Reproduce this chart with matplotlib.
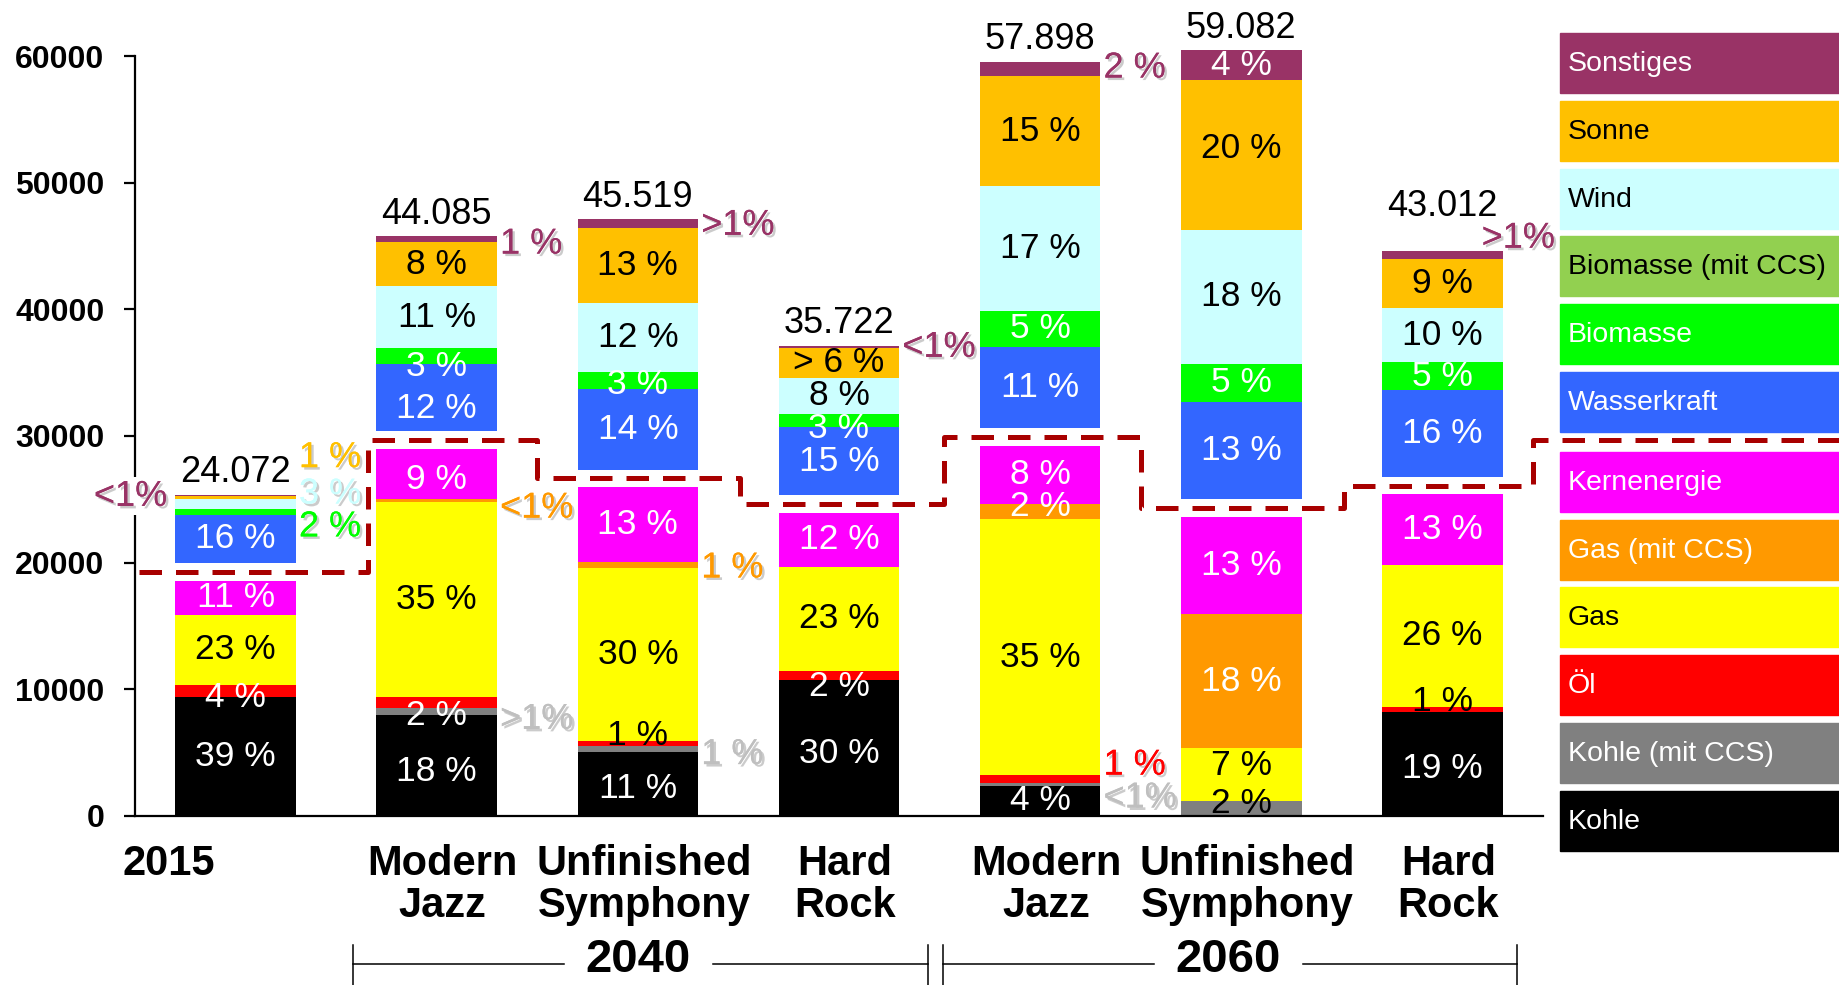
import matplotlib
matplotlib.use("Agg")
import matplotlib.pyplot as plt
import matplotlib.patheffects as pe
from matplotlib.patches import Rectangle

plt.rcParams['font.family'] = ['Liberation Sans', 'DejaVu Sans']

# Stromerzeugung je Szenario und Anteile der Energieträger (in %)
scenarios = ["2015", "Modern\nJazz", "Unfinished\nSymphony", "Hard\nRock",
             "Modern\nJazz", "Unfinished\nSymphony", "Hard\nRock"]
totals = [24072, 44085, 45519, 35722, 57898, 59082, 43012]

kohle     = [39, 18,  11,  30,  4,   0,  19]
kohle_ccs = [0,  1.2, 1,   0,   0.5, 2,  0]
oel       = [4,  2,   1,   2,   1,   0,  1]
gas       = [23, 35,  30,  23,  35,  7,  26]
gas_ccs   = [0,  0.5, 1,   0,   2,   18, 0]
kern      = [11, 9,   13,  12,  8,   13, 13]
wasser    = [16, 12,  14,  15,  11,  13, 16]
biomasse  = [2,  3,   3,   3,   5,   5,  5]
bio_ccs   = [0,  0,   0,   0,   0,   0,  0]
wind      = [3,  11,  12,  8,   17,  18, 10]
sonne     = [1,  8,   13,  6.5, 15,  20, 9]
sonstiges = [0.5, 1,  1.5, 0.5, 2,   4,  1.5]

series_names = ["Kohle", "Kohle (mit CCS)", "Öl", "Gas", "Gas (mit CCS)", "Kernenergie",
                "Wasserkraft", "Biomasse", "Biomasse (mit CCS)", "Wind", "Sonne", "Sonstiges"]
shares = [kohle, kohle_ccs, oel, gas, gas_ccs, kern,
          wasser, biomasse, bio_ccs, wind, sonne, sonstiges]
colors = ["#000000", "#808080", "#FF0000", "#FFFF00", "#FF9900", "#FF00FF",
          "#3366FF", "#00FF00", "#92D050", "#CCFFFF", "#FFC000", "#993366"]
text_colors = ["white", "white", "white", "black", "white", "white",
               "white", "white", "black", "black", "black", "white"]
side_colors = {1: "#BFBFBF", 2: "#FF0000", 4: "#FF9900", 7: "#00FF00",
               9: "#CCFFFF", 10: "#FFC000", 11: "#993366"}

# labels placed next to the bars: (bar, series, text, y, side)
side_labels = [
    (0, 11, "<1%", 25225, "left"),
    (0, 10, "1 %", 28286, "right"),
    (0, 9, "3 %", 25411, "right"),
    (0, 7, "2 %", 22814, "right"),
    (1, 11, "1 %", 45164, "right"),
    (1, 4, "<1%", 24298, "right"),
    (1, 1, ">1%", 7605, "right"),
    (2, 11, ">1%", 46648, "right"),
    (2, 4, "1 %", 19568, "right"),
    (2, 1, "1 %", 4822, "right"),
    (3, 11, "<1%", 37003, "right"),
    (4, 11, "2 %", 59075, "right"),
    (4, 2, "1 %", 3988, "right"),
    (4, 1, "<1%", 1391, "right"),
    (6, 11, ">1%", 45628, "right"),
]
side_shift = {(6, 11): -0.12}
special_text = {(3, 10): "> 6 %"}
dark_text = {(2, 2), (5, 1), (6, 2)}
# small vertical shifts of the in-bar labels
nudge = {(0, 2): -500, (1, 0): -500, (1, 2): -1030, (1, 5): -400, (1, 6): -800,
         (1, 7): -800, (2, 0): -370, (2, 2): 620, (2, 7): -365, (3, 0): -450,
         (3, 2): -870, (3, 7): -620, (4, 3): -800, (4, 4): 360, (5, 1): 340,
         (5, 3): 700, (5, 10): 500, (6, 0): -400, (6, 2): 600}

GAP = 1400          # white space between nuclear and renewables
WIDTH = 0.6
W, H = 1840, 985

fig = plt.figure(figsize=(W / 100, H / 100), dpi=100)
ax = fig.add_axes([135 / W, 169.4 / H, 1408 / W, 797.2 / H])
ax.set_xlim(-0.5, 6.5)
ax.set_ylim(0, 63000)

x = list(range(len(totals)))
bottoms = [0.0] * len(totals)
fossil_top = [0.0] * len(totals)
shadow = [pe.withSimplePatchShadow(offset=(1.8, -1.8), shadow_rgbFace="0.6", alpha=0.5),
          pe.Normal()]
side_keys = {(b, s) for b, s, *_ in side_labels}

for s, (name, vals) in enumerate(zip(series_names, shares)):
    if s == 6:
        fossil_top = bottoms[:]
        bottoms = [b + GAP for b in bottoms]
    heights = [v * t / 100 for v, t in zip(vals, totals)]
    ax.bar(x, heights, WIDTH, bottom=bottoms, color=colors[s], linewidth=0, label=name)
    for i, (h, b) in enumerate(zip(heights, bottoms)):
        if h <= 0 or (i, s) in side_keys:
            continue
        txt = special_text.get((i, s), f"{vals[i]:g} %")
        col = "black" if (i, s) in dark_text else text_colors[s]
        ax.text(i, b + h / 2 + nudge.get((i, s), 0), txt, ha="center", va="center",
                fontsize=25.5, color=col, zorder=4)
    bottoms = [b + h for b, h in zip(bottoms, heights)]

# totals above the bars
for i, (top, tot) in enumerate(zip(bottoms, totals)):
    ax.annotate(f"{tot / 1000:.3f}", (i, top), xytext=(0, 25 if i == 6 else 9),
                textcoords="offset points", ha="center", va="baseline", fontsize=26)

# labels for thin segments beside the bars
for b, s, txt, yv, side in side_labels:
    if side == "left":
        ax.text(b - WIDTH / 2 - 0.04, yv, txt, ha="right", va="center", fontsize=26,
                color=side_colors[s], path_effects=shadow, zorder=5,
                bbox=dict(facecolor="white", edgecolor="none", pad=1))
    else:
        xl = b + WIDTH / 2 + 0.015 + side_shift.get((b, s), 0)
        ax.text(xl, yv, txt, ha="left", va="center", fontsize=26,
                color=side_colors[s], path_effects=shadow, zorder=5, clip_on=False)

# dashed border between conventional and renewable generation
levels = [f + GAP / 2 for f in fossil_top]
steps = [-0.48, 0.66, 1.5, 2.51, 3.52, 4.5, 5.51, 6.45]
px, py = [], []
for i, lv in enumerate(levels):
    px += [steps[i], steps[i + 1]]
    py += [lv, lv]
px += [steps[-1], 7.99]
py += [levels[1], levels[1]]
ax.plot(px, py, color="#A80000", lw=3.6, dashes=(4.5, 2.8), solid_capstyle="butt",
        clip_on=False, zorder=6)

# axes styling
for side in ["top", "right"]:
    ax.spines[side].set_visible(False)
ax.spines["left"].set_bounds(0, 60000)
ax.spines["left"].set_linewidth(1.6)
ax.spines["bottom"].set_linewidth(1.6)
ax.set_yticks(range(0, 60001, 10000))
ax.set_xticks([])
ax.tick_params(axis="y", length=8, width=1.6, pad=14)
for lab in ax.get_yticklabels():
    lab.set_fontweight("bold")
    lab.set_fontsize(23)

# scenario names and period brackets
for i, name in enumerate(scenarios):
    xi = -0.33 if i == 0 else i + 0.03
    ax.text(xi, -2250, name, ha="center", va="top", fontsize=30, fontweight="bold",
            linespacing=1.07, clip_on=False)

for x0, x1, year in [(0.583, 3.44, "2040"), (3.516, 6.373, "2060")]:
    xm = (x0 + x1) / 2 - 0.01
    for a, b in [(x0, xm - 0.37), (xm + 0.37, x1)]:
        ax.plot([a, b], [-11700, -11700], color="black", lw=1.1, clip_on=False)
    for xe in (x0, x1):
        ax.plot([xe, xe], [-10200, -13600], color="black", lw=1.1, clip_on=False)
    ax.text(xm, -11400, year, ha="center", va="center",
            fontsize=34, fontweight="bold", clip_on=False)

# legend boxes on the right, top entry first
for k, s in enumerate(reversed(range(len(series_names)))):
    top = 33 + k * 67.8 + (12 if k >= 6 else 0)
    fig.patches.append(Rectangle((1560 / W, 1 - (top + 60) / H), 280 / W, 60 / H,
                                 transform=fig.transFigure, color=colors[s], zorder=1))
    fig.text(1568 / W, 1 - (top + 31) / H, series_names[s], ha="left", va="center",
             fontsize=20.5, color=text_colors[s] if s != 8 else "black")

fig.savefig("out.png", dpi=100)
